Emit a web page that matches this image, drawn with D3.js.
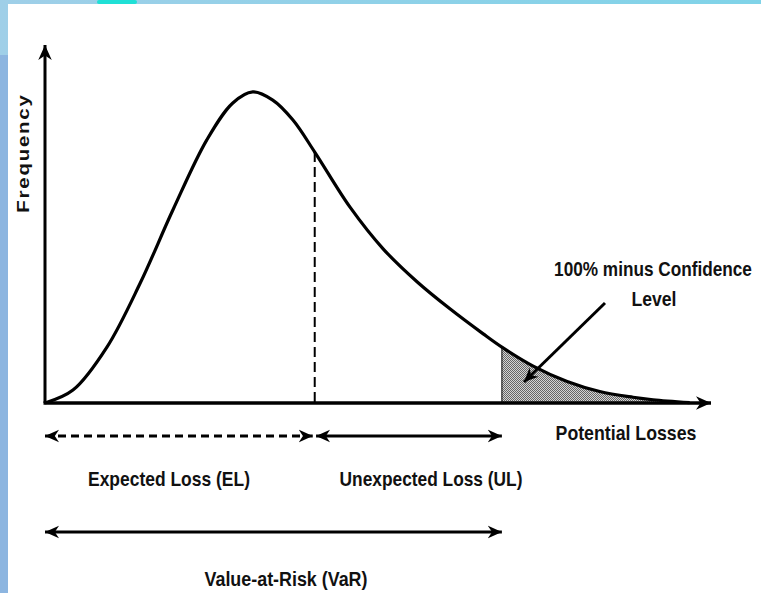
<!DOCTYPE html>
<html>
<head>
<meta charset="utf-8">
<script src="https://cdn.jsdelivr.net/npm/d3@7"></script>
<style>
  html, body { margin: 0; padding: 0; background: #fff; }
  svg { display: block; }
</style>
</head>
<body>
<div id="chart"></div>
<script>
// Loss distribution (x: potential loss, y: frequency, 0-100 units)
const lossX = [0, 4.2, 9.3, 14.3, 19.2, 24.3, 28.2, 31.2, 34.2, 37.2, 40.5, 45.8, 50.8, 55.9, 60.8, 65.8, 68.6, 73.3, 78.4, 83.3, 88.3, 91.3, 96.8];
const frequency = [0, 3.6, 15.6, 33.5, 53.9, 73.5, 83.8, 86.9, 84.6, 79.1, 70.1, 54.7, 43.0, 33.8, 26.3, 19.3, 15.6, 10.3, 6.0, 3.2, 1.6, 0.9, 0.1];

// Markers on the loss axis
const expectedLoss = 40.5;
const valueAtRisk = 68.6;

// Labels
const axisLabels = { x: "Potential Losses", y: "Frequency" };
const rangeLabels = ["Expected Loss (EL)", "Unexpected Loss (UL)", "Value-at-Risk (VaR)"];
const tailLabel = ["100% minus Confidence", "Level"];

const width = 761;
const height = 593;

const svg = d3.select("#chart")
  .append("svg")
  .attr("width", width)
  .attr("height", height);

// Slide background (blue frame on the top and left)
const bg = svg.append("defs");
const topGrad = bg.append("linearGradient").attr("id", "top-grad");
topGrad.append("stop").attr("offset", "0%").attr("stop-color", "#9fcfe8");
topGrad.append("stop").attr("offset", "100%").attr("stop-color", "#7fd3e8");

svg.append("rect").attr("x", 0).attr("y", 0).attr("width", width).attr("height", height).attr("fill", "#8cb5e0");
svg.append("rect").attr("x", 0).attr("y", 0).attr("width", width).attr("height", 55).attr("fill", "url(#top-grad)");
svg.append("rect").attr("x", 97).attr("y", 0).attr("width", 40).attr("height", 4).attr("rx", 2).attr("fill", "#1fe0d6");
svg.append("rect").attr("x", 8).attr("y", 4).attr("width", width - 8).attr("height", height - 4).attr("fill", "#fff");

// Checker pattern for the tail area
const pattern = bg.append("pattern")
  .attr("id", "checker")
  .attr("patternUnits", "userSpaceOnUse")
  .attr("width", 2)
  .attr("height", 2);
pattern.append("rect").attr("width", 2).attr("height", 2).attr("fill", "#d4d4d4");
pattern.append("rect").attr("x", 0).attr("y", 0).attr("width", 1).attr("height", 1).attr("fill", "#666");
pattern.append("rect").attr("x", 1).attr("y", 1).attr("width", 1).attr("height", 1).attr("fill", "#666");

// Arrow heads
function addMarker(id, size) {
  bg.append("marker")
    .attr("id", id)
    .attr("markerUnits", "userSpaceOnUse")
    .attr("viewBox", `${-size} ${-size} ${size * 2} ${size * 2}`)
    .attr("markerWidth", size * 2)
    .attr("markerHeight", size * 2)
    .attr("refX", 0)
    .attr("refY", 0)
    .attr("orient", "auto-start-reverse")
    .append("path")
    .attr("d", `M0,0 L${-size},${-size * 0.45} L${-size * 0.7},0 L${-size},${size * 0.45} Z`)
    .attr("fill", "#000");
}
addMarker("head", 14);
addMarker("axis-head", 15);

// Scales
const x = d3.scaleLinear().domain([0, 100]).range([45, 711]);
const y = d3.scaleLinear().domain([0, 100]).range([403, 45]);

const points = lossX.map((v, i) => ({ loss: v, freq: frequency[i] }));

const line = d3.line()
  .x((d) => x(d.loss))
  .y((d) => y(d.freq))
  .curve(d3.curveCatmullRom.alpha(0.5));

const area = d3.area()
  .x((d) => x(d.loss))
  .y0(y(0))
  .y1((d) => y(d.freq))
  .curve(d3.curveCatmullRom.alpha(0.5));

// Shaded tail beyond VaR
const tail = points.filter((d) => d.loss >= valueAtRisk);
svg.append("path")
  .datum(tail)
  .attr("d", area)
  .attr("fill", "url(#checker)")
  .attr("stroke", "#000")
  .attr("stroke-width", 1);

// Dashed line at expected loss
const elPoint = points.find((d) => d.loss === expectedLoss);
svg.append("line")
  .attr("x1", x(expectedLoss))
  .attr("x2", x(expectedLoss))
  .attr("y1", y(elPoint.freq))
  .attr("y2", y(0))
  .attr("stroke", "#000")
  .attr("stroke-width", 2)
  .attr("stroke-dasharray", "10,5");

// Distribution curve
svg.append("path")
  .datum(points)
  .attr("d", line)
  .attr("fill", "none")
  .attr("stroke", "#000")
  .attr("stroke-width", 3.2);

// Axes
svg.append("line")
  .attr("x1", x(0)).attr("y1", y(0))
  .attr("x2", x(0)).attr("y2", y(100))
  .attr("stroke", "#000").attr("stroke-width", 3)
  .attr("marker-end", "url(#axis-head)");

svg.append("line")
  .attr("x1", x(0) - 1.5).attr("y1", y(0))
  .attr("x2", x(100)).attr("y2", y(0))
  .attr("stroke", "#000").attr("stroke-width", 3.5)
  .attr("marker-end", "url(#axis-head)");

// Range arrows under the axis
const ranges = [
  { from: 0, to: expectedLoss - 0.3, y: 436, dash: "8,5" },
  { from: expectedLoss + 0.2, to: valueAtRisk, y: 436, dash: null },
  { from: 0, to: valueAtRisk, y: 532, dash: null },
];

svg.selectAll(".range")
  .data(ranges)
  .join("line")
  .attr("class", "range")
  .attr("x1", (d) => x(d.from))
  .attr("x2", (d) => x(d.to))
  .attr("y1", (d) => d.y)
  .attr("y2", (d) => d.y)
  .attr("stroke", "#000")
  .attr("stroke-width", 3)
  .attr("stroke-dasharray", (d) => d.dash)
  .attr("marker-start", "url(#head)")
  .attr("marker-end", "url(#head)");

// Pointer to tail area
svg.append("line")
  .attr("x1", 605).attr("y1", 303)
  .attr("x2", 524).attr("y2", 382)
  .attr("stroke", "#000").attr("stroke-width", 3)
  .attr("marker-end", "url(#head)");

// Text: narrow bold labels, squeezed horizontally to the widths in the picture
const font = '"Liberation Sans Narrow", "Arial Narrow", "Liberation Sans", Arial, sans-serif';

function label(txt, cx, cy, len) {
  const t = svg.append("text")
    .attr("text-anchor", "middle")
    .style("font-family", font)
    .style("font-weight", "bold")
    .style("font-size", "20px")
    .style("fill", "#111")
    .text(txt);
  const natural = t.node().getComputedTextLength();
  const sx = Math.min(1, len / natural);
  t.attr("transform", `translate(${cx},${cy}) scale(${sx},1)`);
}

label(rangeLabels[0], 169, 486, 162);
label(rangeLabels[1], 431, 486, 183);
label(rangeLabels[2], 286, 586, 163);
label(axisLabels.x, 626, 440, 141);
label(tailLabel[0], 653, 276, 198);
label(tailLabel[1], 654, 306, 45);

const freq = svg.append("text")
  .attr("text-anchor", "middle")
  .style("font-family", '"Liberation Sans", Arial, sans-serif')
  .style("font-weight", "bold")
  .style("font-size", "17px")
  .style("letter-spacing", "1.5px")
  .style("fill", "#111")
  .text(axisLabels.y);
const freqLen = freq.node().getComputedTextLength();
freq.attr("transform", `translate(29,153) rotate(-90) scale(${Math.min(1.2, 128 / freqLen)},1)`);
</script>
</body>
</html>
